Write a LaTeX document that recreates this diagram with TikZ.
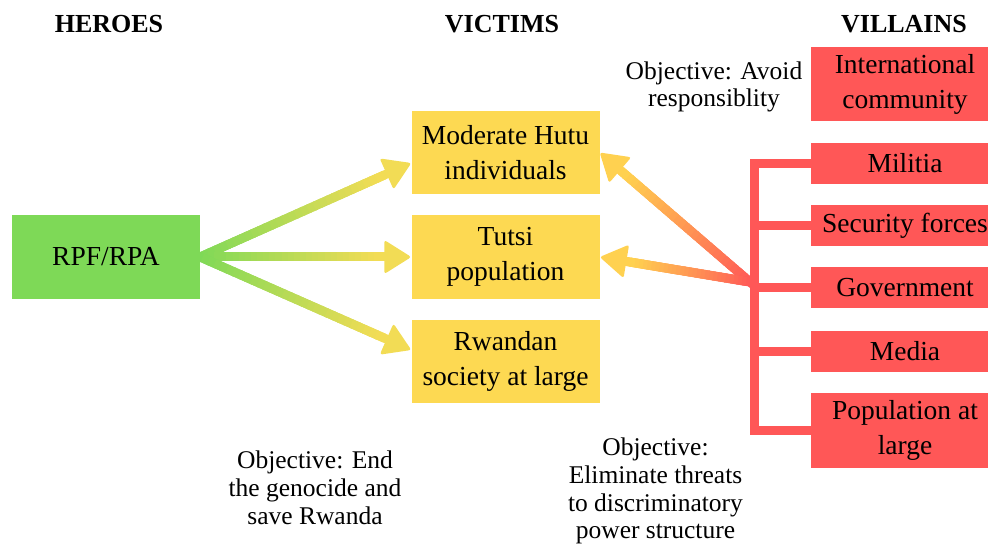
\documentclass[tikz,border=0pt]{standalone}
\usepackage{fontspec}
\setmainfont{Liberation Serif}
\usetikzlibrary{calc}
\definecolor{hgreen}{HTML}{7ED957}
\definecolor{vyellow}{HTML}{FDD952}
\definecolor{vred}{HTML}{FF5757}
\definecolor{ayellow}{HTML}{F2DC55}
\definecolor{aorange}{HTML}{FFD150}
\pgfdeclarelayer{background}
\pgfsetlayers{background,main}
\newcommand{\gradarrow}[4]{%
  \coordinate (ga-h) at ($(#2)!27pt!(#1)$);
  \foreach \i in {0,...,29}{%
    \pgfmathtruncatemacro{\pct}{100-100*\i/29}%
    \draw[line width=9pt, line cap=rect, color=#3!\pct!#4]
      ($(#1)!{\i/30}!(ga-h)$) -- ($(#1)!{(\i+1)/30}!(ga-h)$);
  }
  \fill[#4, rounded corners=2.5pt] (#2) -- ($(ga-h)!17pt!90:(#2)$) -- ($(ga-h)!17pt!-90:(#2)$) -- cycle;
}
\tikzset{
  box/.style={rectangle, inner sep=0pt, minimum width=188pt, align=center,
    font=\fontsize{27.5}{35}\selectfont},
  herobox/.style={box, fill=hgreen, minimum height=84pt},
  victimbox/.style={box, fill=vyellow, minimum height=83.5pt},
  villainbox/.style={box, fill=vred, minimum height=41pt},
  title/.style={anchor=base, font=\fontsize{26}{30}\selectfont\bfseries},
  objtext/.style={align=center, inner sep=0pt, font=\fontsize{25.5}{27.8}\selectfont},
  bracketline/.style={draw=vred, line width=9pt, line join=miter}
}
\begin{document}
\begin{tikzpicture}[x=1pt, y=-1pt]
\useasboundingbox (0,0) rectangle (988,545);
% titles
\node[title] (th) at (109,33) {HEROES};
\node[title] (tv) at (502,33) {VICTIMS};
\node[title] (tl) at (904,33) {VILLAINS};
% boxes
\node[herobox] (rpf) at (106,257) {RPF/RPA};
\node[victimbox] (hutu) at (505.5,152.5) {Moderate Hutu\\individuals};
\node[victimbox] (tutsi) at (505.5,257) {Tutsi\\population};
\node[victimbox] (rwanda) at (505.5,361.5) {Rwandan\\society at large};
\node[villainbox, minimum height=74pt] (intl) at (905,84) {International\\community};
\node[villainbox] (militia) at (905,163.5) {Militia};
\node[villainbox] (sec) at (905,225.5) {Security forces};
\node[villainbox] (gov) at (905,287.5) {Government};
\node[villainbox] (media) at (905,351.5) {Media};
\node[villainbox, minimum height=75pt] (popl) at (905,430.5) {Population at\\large};
% objectives
\node[objtext] (oavoid) at (714,87) {Objective: Avoid\\responsiblity};
\node[objtext] (oend) at (315,488) {Objective: End\\the genocide and\\save Rwanda};
\node[objtext] (oelim) at (655.5,491) {Objective:\\Eliminate threats\\to discriminatory\\power structure};
% bracket
\coordinate (bx) at (754,163.5);
\draw[bracketline] (militia.west) -- (bx) |- (popl.west);
\draw[bracketline] (bx |- sec.west) -- (sec.west);
\draw[bracketline] (bx |- gov.west) -- (gov.west);
\draw[bracketline] (bx |- media.west) -- (media.west);
% arrows
\coordinate (hub) at (750,282);
\coordinate (t1) at ($(hutu.west)+(0,10.5)$);
\coordinate (t3) at ($(rwanda.west)+(0,-11.5)$);
\begin{pgfonlayer}{background}
\gradarrow{rpf.east}{t1}{hgreen}{ayellow}
\gradarrow{rpf.east}{tutsi.west}{hgreen}{ayellow}
\gradarrow{rpf.east}{t3}{hgreen}{ayellow}
\gradarrow{hub}{hutu.east}{vred}{aorange}
\gradarrow{hub}{tutsi.east}{vred}{aorange}
\end{pgfonlayer}
\end{tikzpicture}
\end{document}
